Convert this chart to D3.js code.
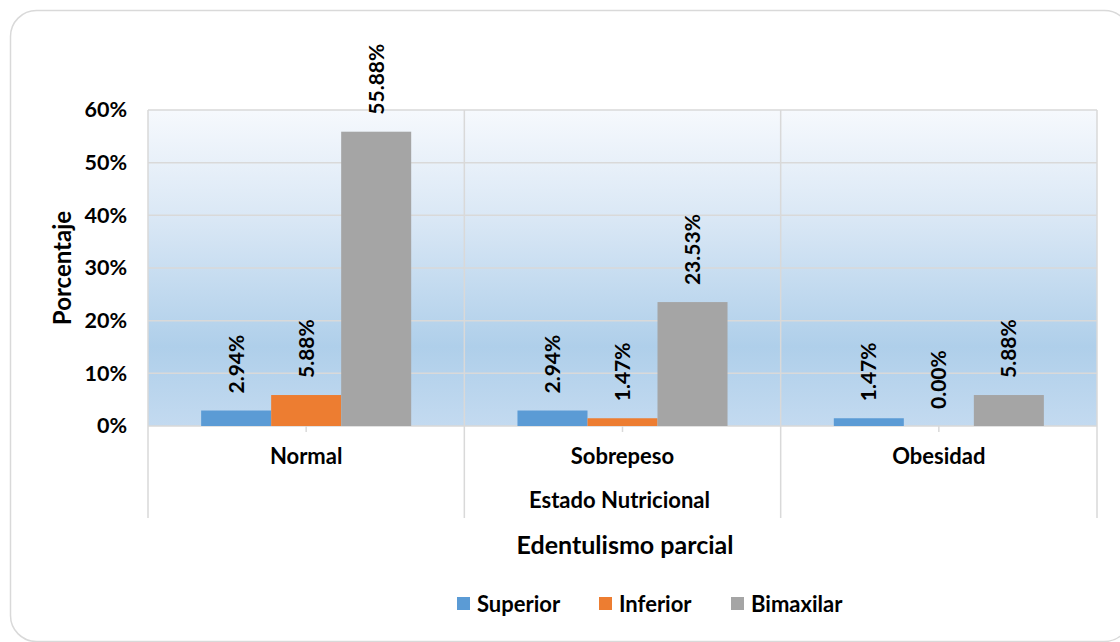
<!DOCTYPE html>
<html>
  <head>
  <title>Edentulismo parcial</title>
  <style>
    body, html {
      margin: 0;
      padding: 0;
      background: #fff;
    }
    svg text {
      font-family: Lato, "Open Sans", sans-serif;
      font-weight: 700;
      fill: #000;
    }
  </style>
  </head>
  <body>

  <svg id="svg" width="1120" height="642"></svg>

  <script src="https://d3js.org/d3.v7.min.js"></script>
  <script>
    // data
    const categories = ['Normal', 'Sobrepeso', 'Obesidad']
    const series = ['Superior', 'Inferior', 'Bimaxilar']
    const superior = [2.94, 2.94, 1.47]
    const inferior = [5.88, 1.47, 0.00]
    const bimaxilar = [55.88, 23.53, 5.88]
    const yTicks = [0, 10, 20, 30, 40, 50, 60]
    const colors = ['#5b9bd5', '#ed7d31', '#a5a5a5']

    const values = [superior, inferior, bimaxilar]
    const rows = categories.map((c, i) => ({
      cat: c,
      vals: series.map((s, j) => ({ key: s, value: values[j][i], color: colors[j] }))
    }))

    const margin = { top: 110, right: 23, bottom: 216, left: 148 }
    const width = 1120 - margin.left - margin.right
    const height = 642 - margin.top - margin.bottom

    const svg = d3.select('#svg')

    // outer rounded frame
    svg.append('rect')
      .attr('x', 10.5).attr('y', 10.5)
      .attr('width', 1120).attr('height', 631)
      .attr('rx', 26)
      .attr('fill', '#fff')
      .attr('stroke', '#d9d9d9')
      .attr('stroke-width', 1.5)

    const defs = svg.append('defs')
    const grad = defs.append('linearGradient')
      .attr('id', 'bg').attr('x1', 0).attr('y1', 0).attr('x2', 0).attr('y2', 1)
    grad.append('stop').attr('offset', '0%').attr('stop-color', '#f6f9fd')
    grad.append('stop').attr('offset', '35%').attr('stop-color', '#d9e7f5')
    grad.append('stop').attr('offset', '75%').attr('stop-color', '#afcfea')
    grad.append('stop').attr('offset', '100%').attr('stop-color', '#c3daf0')

    const g = svg.append('g').attr('transform', `translate(${margin.left},${margin.top})`)

    const x0 = d3.scaleBand().domain(categories).range([0, width])
    const bw = x0.bandwidth()
    const gap = bw * 0.168
    const x1 = d3.scaleBand().domain(series).range([gap, bw - gap])
    const y = d3.scaleLinear().domain([0, 60]).range([height, 0])

    g.append('rect')
      .attr('width', width).attr('height', height)
      .attr('fill', 'url(#bg)')

    // gridlines
    g.append('g')
      .selectAll('line')
      .data(yTicks)
      .join('line')
      .attr('x1', 0).attr('x2', width)
      .attr('y1', d => y(d)).attr('y2', d => y(d))
      .attr('stroke', '#d9d9d9').attr('stroke-width', 1.5)

    // category dividers, running down into the multi-level axis
    const edges = categories.map(c => x0(c)).concat([width])
    g.append('g')
      .selectAll('line')
      .data(edges)
      .join('line')
      .attr('x1', d => d).attr('x2', d => d)
      .attr('y1', 0).attr('y2', height + 92)
      .attr('stroke', '#d9d9d9').attr('stroke-width', 1.5)

    // small ticks at category centres
    g.append('g')
      .selectAll('line')
      .data(categories)
      .join('line')
      .attr('x1', d => x0(d) + bw / 2).attr('x2', d => x0(d) + bw / 2)
      .attr('y1', height).attr('y2', height + 6)
      .attr('stroke', '#d9d9d9').attr('stroke-width', 1.5)

    // bars
    const groups = g.append('g')
      .selectAll('g')
      .data(rows)
      .join('g')
      .attr('transform', d => `translate(${x0(d.cat)},0)`)

    groups.selectAll('rect')
      .data(d => d.vals)
      .join('rect')
      .attr('x', d => x1(d.key))
      .attr('y', d => y(d.value))
      .attr('width', x1.bandwidth())
      .attr('height', d => height - y(d.value))
      .attr('fill', d => d.color)

    groups.selectAll('text')
      .data(d => d.vals)
      .join('text')
      .attr('transform', d => `translate(${x1(d.key) + x1.bandwidth() / 2},${y(d.value) - 17}) rotate(-90)`)
      .attr('dy', '0.35em')
      .attr('font-size', 21)
      .text(d => d.value.toFixed(2) + '%')

    // y axis labels
    const leftAxis = d3.axisLeft(y)
      .tickValues(yTicks)
      .tickSize(0)
      .tickPadding(21)
      .tickFormat(d => d + '%')
    const ya = g.append('g').call(leftAxis)
    ya.select('.domain').remove()
    ya.selectAll('text').attr('font-size', 21.5).style('font-family', 'Lato, sans-serif')

    // category labels
    const bottomAxis = d3.axisBottom(x0).tickSize(0).tickPadding(22)
    const xa = g.append('g').attr('transform', `translate(0,${height})`).call(bottomAxis)
    xa.select('.domain').remove()
    xa.selectAll('text').attr('font-size', 22).style('font-family', 'Lato, sans-serif')

    // second-level category name
    g.append('text')
      .attr('x', width / 2 - 3).attr('y', height + 74)
      .attr('dy', '0.35em')
      .attr('text-anchor', 'middle')
      .attr('font-size', 22)
      .text('Estado Nutricional')

    // axis titles
    svg.append('text')
      .attr('x', 625).attr('y', 545)
      .attr('dy', '0.35em')
      .attr('text-anchor', 'middle')
      .attr('font-size', 25)
      .text('Edentulismo parcial')

    svg.append('text')
      .attr('transform', 'translate(63,268) rotate(-90)')
      .attr('dy', '0.35em')
      .attr('text-anchor', 'middle')
      .attr('font-size', 24)
      .text('Porcentaje')

    // legend
    const legendX = [457, 599, 731]
    const legend = svg.append('g')
      .selectAll('g')
      .data(series)
      .join('g')
      .attr('transform', (d, i) => `translate(${legendX[i]},597)`)
    legend.append('rect')
      .attr('width', 13).attr('height', 13)
      .attr('fill', (d, i) => colors[i])
    legend.append('text')
      .attr('x', 20).attr('y', 7)
      .attr('dy', '0.35em')
      .attr('font-size', 22)
      .text(d => d)
  </script>
  </body>
</html>
